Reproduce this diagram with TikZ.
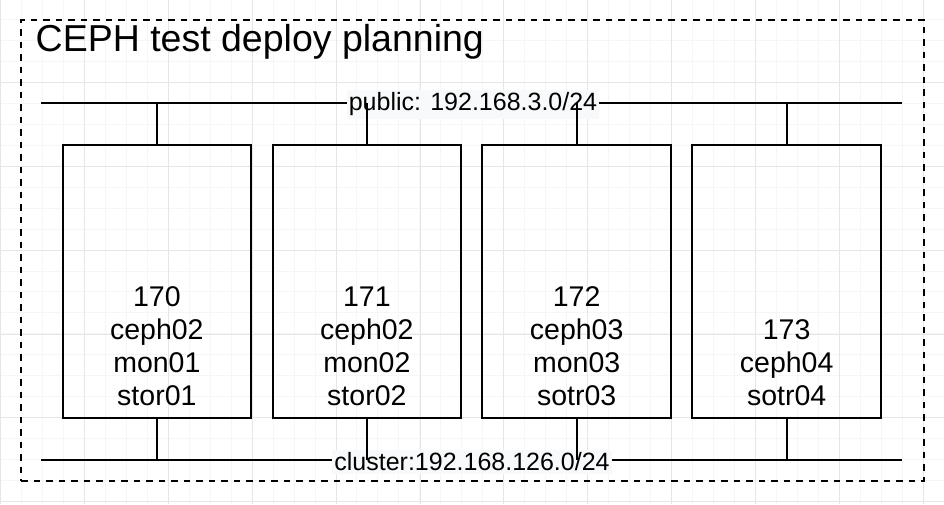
\documentclass[tikz,border=0pt]{standalone}
\usepackage{fontspec}
\setmainfont{Liberation Sans}
\definecolor{gridminor}{RGB}{246,246,246}
\definecolor{gridmajor}{RGB}{230,230,230}
\definecolor{labelbg}{RGB}{248,249,250}
\begin{document}
\begin{tikzpicture}[x=1pt,y=-1pt,
  hostbox/.style={draw=black,line width=2pt,minimum width=188.7pt,minimum height=272.5pt,inner sep=0pt,anchor=north west},
  hosttext/.style={align=center,inner sep=0pt,anchor=south,text depth=0pt,font=\fontsize{28.5}{33}\selectfont},
  net/.style={draw=black,line width=2pt},
  netlabel/.style={fill=labelbg,inner xsep=2pt,inner ysep=3pt,font=\fontsize{25}{30}\selectfont},
  frame/.style={draw=black,line width=2pt,dash pattern=on 6.5pt off 6pt}]
\useasboundingbox (0,0) rectangle (944,504);
\fill[white] (0,0) rectangle (944,504);
% grid
\foreach \i in {0,...,45} {
  \draw[gridminor,line width=1pt] ({0.5+20.97*\i},0) -- ({0.5+20.97*\i},504);
}
\foreach \i in {0,...,24} {
  \draw[gridminor,line width=1pt] (0,{-1.6+20.97*\i}) -- (944,{-1.6+20.97*\i});
}
\foreach \i in {0,...,11} {
  \draw[gridmajor,line width=1pt] ({0.5+83.9*\i},0) -- ({0.5+83.9*\i},504);
}
\foreach \i in {0,...,6} {
  \draw[gridmajor,line width=1pt] (0,{-1.6+83.9*\i}) -- (944,{-1.6+83.9*\i});
}
% frame
\node[frame,minimum width=902.4pt,minimum height=461pt,inner sep=0pt,anchor=north west] (frm) at (20.3,19) {};
\node[anchor=base west,inner sep=0pt,font=\fontsize{37.5}{45}\selectfont] (title) at (35.5,51.5) {CEPH test deploy planning};
% network lines
\coordinate (pubL) at (41.3,102.7);
\coordinate (pubR) at (901.7,102.7);
\coordinate (cluL) at (41.3,460);
\coordinate (cluR) at (901.7,460);
\draw[net] (pubL) -- (pubR);
\draw[net] (cluL) -- (cluR);
% labels
\node[netlabel] (publabel) at (473,104.5) {public: 192.168.3.0/24};
\node[netlabel] (clulabel) at (472,462) {cluster:192.168.126.0/24};
% hosts
\node[hostbox] (h1) at (61.5,144) {};
\node[hostbox] (h2) at (271.5,144) {};
\node[hostbox] (h3) at (481.3,144) {};
\node[hostbox] (h4) at (691.3,144) {};
\foreach \h in {h1,h2,h3,h4} {
  \draw[net] (\h.north) -- (\h.north |- pubL);
  \draw[net] (\h.south) -- (\h.south |- cluL);
}
\node[hosttext] (t1) at ([yshift=12.5pt]h1.south) {170\\ceph02\\mon01\\stor01};
\node[hosttext] (t2) at ([yshift=12.5pt]h2.south) {171\\ceph02\\mon02\\stor02};
\node[hosttext] (t3) at ([yshift=12.5pt]h3.south) {172\\ceph03\\mon03\\sotr03};
\node[hosttext] (t4) at ([yshift=12.5pt]h4.south) {173\\ceph04\\sotr04};
\end{tikzpicture}
\end{document}
